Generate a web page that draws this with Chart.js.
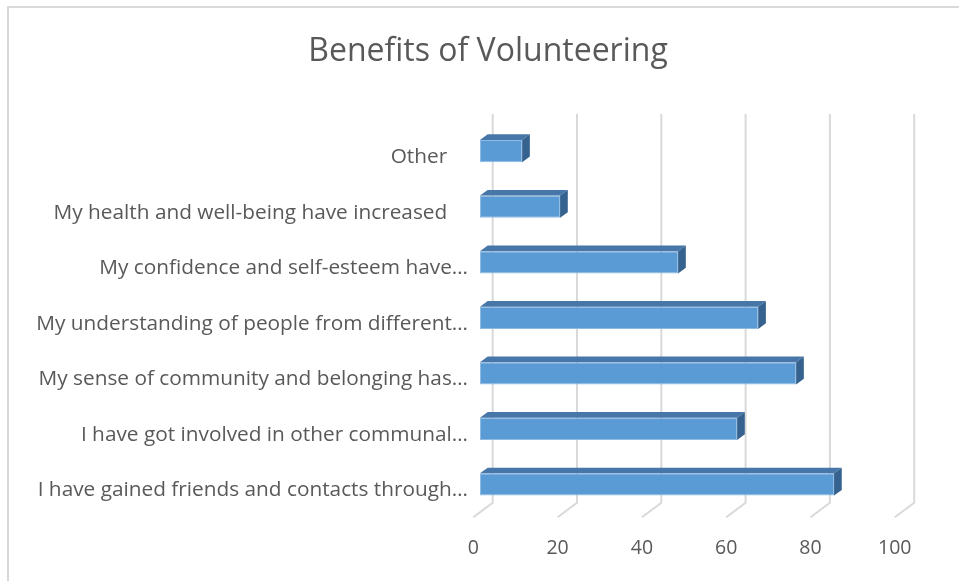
<!DOCTYPE html>
<html>
<head>
<meta charset="utf-8">
<title>Benefits of Volunteering</title>
<script src="https://cdn.jsdelivr.net/npm/chart.js@4/dist/chart.umd.min.js"></script>
<style>
  html, body { margin: 0; padding: 0; background: #ffffff; }
  #wrap { width: 959px; height: 581px; }
</style>
</head>
<body>
<div id="wrap"><canvas id="chart" width="959" height="581"></canvas></div>
<script>
// Survey answers, listed top to bottom as they appear on the chart
const categories = [
  "Other",
  "My health and well-being have increased",
  "My confidence and self-esteem have…",
  "My understanding of people from different…",
  "My sense of community and belonging has…",
  "I have got involved in other communal…",
  "I have gained friends and contacts through…"
];
const responses = [10, 19, 47, 66, 75, 61, 84];
const valueTicks = [0, 20, 40, 60, 80, 100];

const TEXT = "#595959";
const GRID = "#d9d9d9";
const FRONT = "#5b9bd5";
const TOP_FACE = "#4677a8";
const SIDE_FACE = "#35628f";
const FONT = "'Open Sans'";

// depth of each bar, and of the back wall / floor relative to the bar front
const BAR_DX = 7.7, BAR_DY = 5.7;
const WALL_DX = 12.7, WALL_DY = 9.4;
const FLOOR_DX = -6.7, FLOOR_DY = 5.0;

// Outer frame (left and top edges of the chart area box)
const framePlugin = {
  id: "frame",
  beforeDraw(chart) {
    const ctx = chart.ctx;
    ctx.save();
    ctx.fillStyle = "#ffffff";
    ctx.fillRect(0, 0, chart.width, chart.height);
    ctx.strokeStyle = GRID;
    ctx.lineWidth = 2;
    ctx.beginPath();
    ctx.moveTo(8, chart.height);
    ctx.lineTo(8, 7);
    ctx.lineTo(chart.width, 7);
    ctx.stroke();
    ctx.restore();
  }
};

// Back-wall gridlines and the floor lines running to the front edge
const wallGridPlugin = {
  id: "wallGrid",
  beforeDatasetsDraw(chart) {
    const { ctx, chartArea, scales } = chart;
    const x = scales.x;
    ctx.save();
    ctx.strokeStyle = GRID;
    ctx.lineWidth = 2;
    ctx.lineCap = "butt";
    valueTicks.forEach(v => {
      const px = x.getPixelForValue(v);
      const backX = px + WALL_DX;
      const topY = chartArea.top - WALL_DY;
      const backBottom = chartArea.bottom - WALL_DY;
      ctx.beginPath();
      ctx.moveTo(backX, topY);
      ctx.lineTo(backX, backBottom);
      ctx.lineTo(px + FLOOR_DX, chartArea.bottom + FLOOR_DY);
      ctx.stroke();
    });
    ctx.restore();
  }
};

// Top and side faces that give each bar its depth
const barDepthPlugin = {
  id: "barDepth",
  afterDatasetsDraw(chart) {
    const ctx = chart.ctx;
    const meta = chart.getDatasetMeta(0);
    ctx.save();
    meta.data.forEach(bar => {
      const p = bar.getProps(["x", "y", "base", "height"], true);
      const top = p.y - p.height / 2;
      const bottom = p.y + p.height / 2;
      const left = Math.min(p.base, p.x);
      const right = Math.max(p.base, p.x);
      ctx.fillStyle = TOP_FACE;
      ctx.beginPath();
      ctx.moveTo(left, top);
      ctx.lineTo(right, top);
      ctx.lineTo(right + BAR_DX, top - BAR_DY);
      ctx.lineTo(left + BAR_DX, top - BAR_DY);
      ctx.closePath();
      ctx.fill();
      ctx.fillStyle = SIDE_FACE;
      ctx.beginPath();
      ctx.moveTo(right, top);
      ctx.lineTo(right + BAR_DX, top - BAR_DY);
      ctx.lineTo(right + BAR_DX, bottom - BAR_DY);
      ctx.lineTo(right, bottom);
      ctx.closePath();
      ctx.fill();
    });
    ctx.restore();
  }
};

new Chart(document.getElementById("chart"), {
  type: "bar",
  data: {
    labels: categories,
    datasets: [{
      data: responses,
      backgroundColor: FRONT,
      borderColor: "#8fbbe3",
      borderWidth: 1,
      borderSkipped: false,
      barPercentage: 0.4,
      categoryPercentage: 1.0
    }]
  },
  options: {
    indexAxis: "y",
    responsive: false,
    animation: false,
    devicePixelRatio: 1,
    layout: { padding: { left: 17, right: 0, top: 0, bottom: 0 } },
    plugins: {
      legend: { display: false },
      tooltip: { enabled: false },
      title: {
        display: true,
        text: "Benefits of Volunteering",
        color: TEXT,
        font: { family: FONT, size: 32, weight: "normal" },
        padding: { top: 33, bottom: 52 }
      }
    },
    scales: {
      x: {
        type: "linear",
        position: "bottom",
        min: 0,
        max: 100,
        afterBuildTicks(scale) {
          scale.ticks = valueTicks.map(v => ({ value: v }));
        },
        afterFit(scale) { scale.height = 68.75; },
        grid: { display: false, drawTicks: false, tickLength: 0 },
        border: { display: false },
        ticks: {
          color: TEXT,
          font: { family: FONT, size: 19.5 },
          padding: 24,
          labelOffset: FLOOR_DX,
          maxRotation: 0
        }
      },
      y: {
        type: "category",
        position: "left",
        afterFit(scale) { scale.width = 463; },
        grid: { display: false, drawTicks: false, tickLength: 0 },
        border: { display: false },
        ticks: {
          color: TEXT,
          font: { family: FONT, size: 20.8 },
          padding: 12,
          labelOffset: 6,
          autoSkip: false,
          callback(value) {
            const label = this.getLabelForValue(value);
            return label.endsWith("…") ? label : label + "\u2002\u2002";
          }
        }
      },
      spacer: {
        type: "linear",
        position: "right",
        display: true,
        afterFit(scale) { scale.width = 57.5; },
        grid: { display: false, drawTicks: false },
        border: { display: false },
        ticks: { display: false }
      }
    }
  },
  plugins: [framePlugin, wallGridPlugin, barDepthPlugin]
});
</script>
</body>
</html>
